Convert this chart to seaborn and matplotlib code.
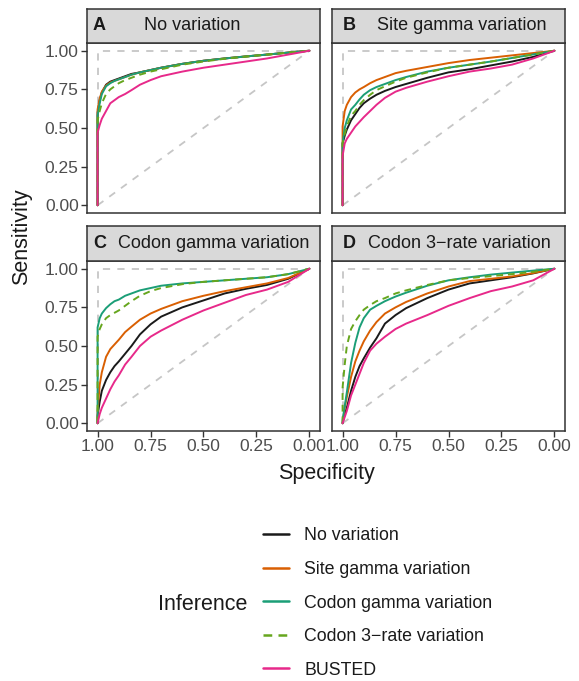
import matplotlib
matplotlib.use("Agg")
import matplotlib.pyplot as plt
from matplotlib.lines import Line2D
import numpy as np
import pandas as pd
import seaborn as sns

# specificity grid shared by all curves (starts with a vertical jump at 1.0)
SPEC = [1.0, 1.0, 0.99, 0.98, 0.96, 0.94, 0.92, 0.90, 0.87, 0.84, 0.80,
        0.75, 0.70, 0.60, 0.50, 0.40, 0.30, 0.20, 0.10, 0.0]

METHODS = ["No variation", "Site gamma variation", "Codon gamma variation",
           "Codon 3\u2212rate variation", "BUSTED"]
COLORS = ["#1a1a1a", "#D95F02", "#1B9E77", "#66A61E", "#E7298A"]

PANEL_LETTERS = ["A", "B", "C", "D"]
PANEL_TITLES = ["No variation", "Site gamma variation",
                "Codon gamma variation", "Codon 3\u2212rate variation"]

# sensitivity values, one list per panel / method
A_NO_VAR = [0, 0.60, 0.68, 0.73, 0.78, 0.80, 0.81, 0.82, 0.835, 0.85, 0.86, 0.875, 0.89, 0.915, 0.935, 0.95, 0.963, 0.975, 0.988, 1.0]
A_SITE = [0, 0.62, 0.69, 0.735, 0.775, 0.795, 0.805, 0.815, 0.83, 0.845, 0.86, 0.875, 0.89, 0.915, 0.935, 0.95, 0.963, 0.975, 0.988, 1.0]
A_CGAMMA = [0, 0.58, 0.66, 0.72, 0.77, 0.79, 0.805, 0.815, 0.83, 0.845, 0.86, 0.875, 0.89, 0.915, 0.935, 0.95, 0.963, 0.975, 0.988, 1.0]
A_C3RATE = [0, 0.55, 0.61, 0.66, 0.72, 0.75, 0.77, 0.79, 0.81, 0.825, 0.845, 0.865, 0.88, 0.91, 0.93, 0.948, 0.962, 0.975, 0.988, 1.0]
A_BUSTED = [0, 0.47, 0.52, 0.56, 0.61, 0.66, 0.68, 0.70, 0.72, 0.745, 0.78, 0.81, 0.835, 0.865, 0.89, 0.91, 0.93, 0.95, 0.975, 1.0]

B_NO_VAR = [0, 0.40, 0.45, 0.49, 0.55, 0.59, 0.63, 0.66, 0.69, 0.715, 0.74, 0.765, 0.785, 0.825, 0.86, 0.88, 0.905, 0.93, 0.96, 1.0]
B_SITE = [0, 0.51, 0.61, 0.65, 0.70, 0.73, 0.75, 0.765, 0.79, 0.81, 0.83, 0.855, 0.87, 0.895, 0.92, 0.94, 0.955, 0.97, 0.985, 1.0]
B_CGAMMA = [0, 0.40, 0.50, 0.55, 0.62, 0.65, 0.685, 0.715, 0.745, 0.765, 0.785, 0.81, 0.83, 0.865, 0.89, 0.91, 0.93, 0.953, 0.976, 1.0]
B_C3RATE = [0, 0.40, 0.46, 0.51, 0.58, 0.61, 0.65, 0.68, 0.715, 0.745, 0.77, 0.80, 0.825, 0.86, 0.89, 0.91, 0.93, 0.953, 0.976, 1.0]
B_BUSTED = [0, 0.32, 0.40, 0.43, 0.47, 0.51, 0.54, 0.57, 0.61, 0.65, 0.695, 0.735, 0.76, 0.80, 0.835, 0.865, 0.885, 0.91, 0.95, 1.0]

C_NO_VAR = [0, 0.05, 0.14, 0.21, 0.28, 0.33, 0.37, 0.40, 0.45, 0.50, 0.575, 0.64, 0.69, 0.75, 0.795, 0.84, 0.87, 0.895, 0.935, 1.0]
C_SITE = [0, 0.08, 0.25, 0.33, 0.43, 0.48, 0.51, 0.54, 0.59, 0.625, 0.67, 0.71, 0.74, 0.79, 0.825, 0.855, 0.88, 0.905, 0.94, 1.0]
C_CGAMMA = [0, 0.62, 0.68, 0.71, 0.745, 0.77, 0.79, 0.80, 0.825, 0.84, 0.86, 0.875, 0.89, 0.905, 0.915, 0.925, 0.935, 0.945, 0.965, 1.0]
C_C3RATE = [0, 0.56, 0.61, 0.64, 0.68, 0.70, 0.715, 0.73, 0.76, 0.79, 0.825, 0.855, 0.875, 0.90, 0.915, 0.925, 0.935, 0.945, 0.965, 1.0]
C_BUSTED = [0, 0.0, 0.06, 0.10, 0.16, 0.22, 0.27, 0.31, 0.38, 0.43, 0.50, 0.56, 0.60, 0.67, 0.73, 0.78, 0.83, 0.865, 0.915, 1.0]

D_NO_VAR = [0, 0.0, 0.06, 0.10, 0.21, 0.30, 0.37, 0.42, 0.49, 0.55, 0.645, 0.70, 0.745, 0.81, 0.865, 0.905, 0.925, 0.945, 0.97, 1.0]
D_SITE = [0, 0.0, 0.10, 0.17, 0.30, 0.40, 0.47, 0.53, 0.60, 0.655, 0.71, 0.75, 0.785, 0.84, 0.885, 0.92, 0.935, 0.95, 0.972, 1.0]
D_CGAMMA = [0, 0.02, 0.11, 0.20, 0.39, 0.52, 0.62, 0.68, 0.735, 0.76, 0.79, 0.82, 0.845, 0.89, 0.925, 0.945, 0.962, 0.975, 0.988, 1.0]
D_C3RATE = [0, 0.23, 0.38, 0.50, 0.61, 0.66, 0.70, 0.735, 0.765, 0.79, 0.81, 0.84, 0.86, 0.895, 0.925, 0.94, 0.952, 0.965, 0.98, 1.0]
D_BUSTED = [0, 0.0, 0.04, 0.08, 0.18, 0.25, 0.32, 0.39, 0.47, 0.515, 0.56, 0.61, 0.645, 0.70, 0.76, 0.81, 0.855, 0.885, 0.925, 1.0]

PANEL_DATA = [
    [A_NO_VAR, A_SITE, A_CGAMMA, A_C3RATE, A_BUSTED],
    [B_NO_VAR, B_SITE, B_CGAMMA, B_C3RATE, B_BUSTED],
    [C_NO_VAR, C_SITE, C_CGAMMA, C_C3RATE, C_BUSTED],
    [D_NO_VAR, D_SITE, D_CGAMMA, D_C3RATE, D_BUSTED],
]

sns.set_style("white")
plt.rcParams["font.family"] = ["Liberation Sans", "DejaVu Sans"]

W, H = 579, 681
fig = plt.figure(figsize=(W / 100, H / 100), dpi=100)

palette = dict(zip(METHODS, COLORS))
dashes = {m: "" for m in METHODS}
dashes[METHODS[3]] = (3.5, 2.5)

REF_GREY = "#C6C6C6"
BORDER = "#333333"


def px_axes(left, top, right, bottom):
    return fig.add_axes([left / W, 1 - bottom / H, (right - left) / W, (bottom - top) / H])


# pixel boxes: (left, right) columns and (strip_top, axes_top, axes_bottom) rows
cols = [(87, 320), (332, 565)]
rows = [(9, 43, 213), (226, 261, 431)]
letter_x = [93, 343, 93, 343]
title_x = [144, 377, 118, 368]

for i in range(4):
    r, c = divmod(i, 2)
    left, right = cols[c]
    stop, atop, abot = rows[r]
    ax = px_axes(left, atop, right, abot)

    # reference lines: chance diagonal and perfect classifier
    ax.plot([1, 0], [0, 1], color=REF_GREY, ls=(0, (4, 4)), lw=1.3)
    ax.plot([1, 1, 0], [0, 1, 1], color=REF_GREY, ls=(0, (4, 4)), lw=1.3)

    frames = []
    for m, sens in zip(METHODS, PANEL_DATA[i]):
        frames.append(pd.DataFrame({"Specificity": SPEC, "Sensitivity": sens,
                                    "Inference": m}))
    df = pd.concat(frames, ignore_index=True)
    sns.lineplot(data=df, x="Specificity", y="Sensitivity", hue="Inference",
                 style="Inference", palette=palette, dashes=dashes,
                 hue_order=METHODS, style_order=METHODS,
                 sort=False, estimator=None, units="Inference",
                 lw=1.4, legend=False, ax=ax)

    ax.set_xlim(1.05, -0.05)
    ax.set_ylim(-0.05, 1.05)
    ticks = [1.0, 0.75, 0.5, 0.25, 0.0]
    ax.set_xticks(ticks)
    ax.set_yticks(ticks[::-1])
    ax.set_xlabel("")
    ax.set_ylabel("")
    ax.tick_params(direction="out", length=4, width=1, color=BORDER,
                   labelsize=12.5, labelcolor="#4D4D4D", pad=2,
                   bottom=(r == 1), left=(c == 0),
                   labelbottom=(r == 1), labelleft=(c == 0))
    if r == 1:
        ax.set_xticklabels(["1.00", "0.75", "0.50", "0.25", "0.00"])
    if c == 0:
        ax.set_yticklabels(["0.00", "0.25", "0.50", "0.75", "1.00"])
    for s in ax.spines.values():
        s.set_color(BORDER)
        s.set_linewidth(1.1)
        s.set_visible(True)

    # facet strip
    sax = px_axes(left, stop, right, atop)
    sax.set_facecolor("#D9D9D9")
    sax.set_xticks([])
    sax.set_yticks([])
    for s in sax.spines.values():
        s.set_color(BORDER)
        s.set_linewidth(1.1)
    ymid = 1 - ((stop + atop) / 2) / H
    fig.text(letter_x[i] / W, ymid, PANEL_LETTERS[i], fontsize=13,
             fontweight="bold", ha="left", va="center", color="#1a1a1a")
    fig.text(title_x[i] / W, ymid, PANEL_TITLES[i], fontsize=13,
             ha="left", va="center", color="#1a1a1a")

fig.text(22 / W, 1 - 237 / H, "Sensitivity", rotation=90, fontsize=15.5,
         ha="center", va="center", color="#1a1a1a")
fig.text(326 / W, 1 - 473 / H, "Specificity", fontsize=15.5,
         ha="center", va="center", color="#1a1a1a")

# legend
handles = []
for m, col in zip(METHODS, COLORS):
    handles.append(Line2D([0], [0], color=col, lw=1.8,
                          ls=(0, (3.5, 2.5)) if m == METHODS[3] else "-"))
fig.legend(handles, METHODS, loc="center left",
           bbox_to_anchor=(263 / W, 1 - 603 / H), frameon=False,
           fontsize=12.8, handlelength=1.46, handletextpad=0.85,
           labelspacing=0.93, borderpad=0, borderaxespad=0,
           labelcolor="#1a1a1a")
fig.text(203 / W, 1 - 605 / H, "Inference", fontsize=15.5,
         ha="center", va="center", color="#1a1a1a")

fig.savefig("out.png", dpi=100)
